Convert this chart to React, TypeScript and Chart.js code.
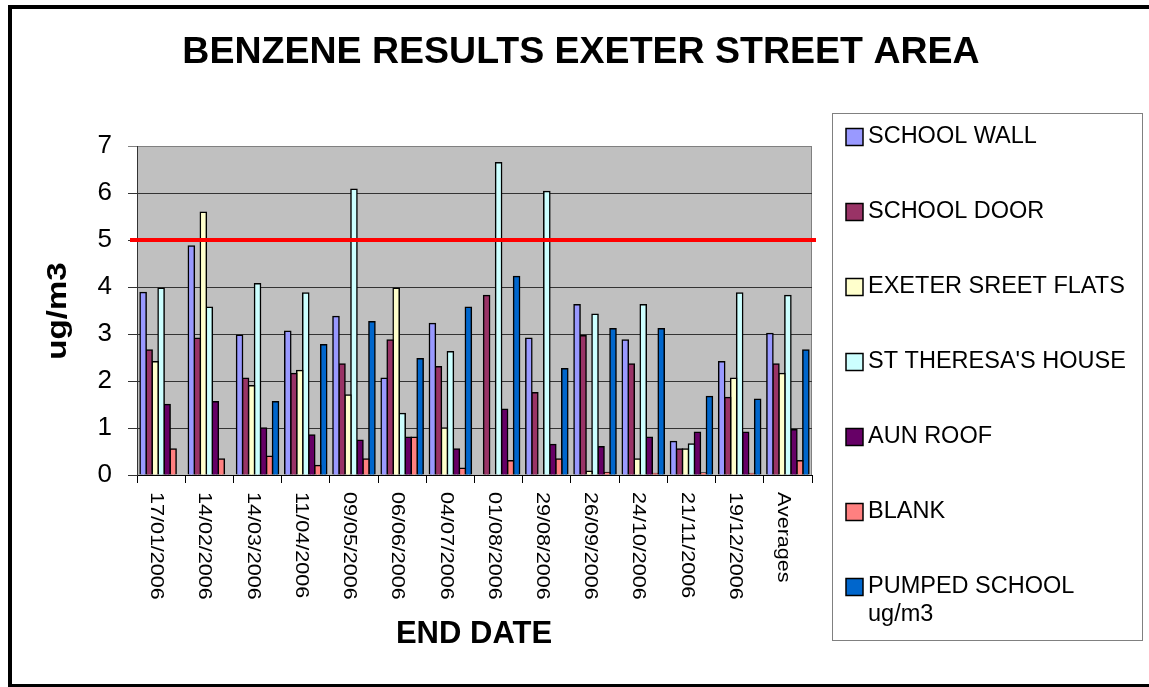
import React, { useEffect, useRef } from 'react';
import { Chart, registerables } from 'chart.js';

Chart.register(...registerables);

// ---------- data ----------
const categories = [
  '17/01/2006', '14/02/2006', '14/03/2006', '11/04/2006', '09/05/2006', '06/06/2006', '04/07/2006',
  '01/08/2006', '29/08/2006', '26/09/2006', '24/10/2006', '21/11/2006', '19/12/2006', 'Averages',
];
const schoolWall = [3.88, 4.87, 2.97, 3.06, 3.37, 2.06, 3.22, null, 2.91, 3.62, 2.87, 0.71, 2.41, 3.01];
const schoolDoor = [2.66, 2.91, 2.06, 2.16, 2.36, 2.87, 2.30, 3.82, 1.75, 2.96, 2.36, 0.55, 1.65, 2.36];
const exeterFlats = [2.41, 5.59, 1.90, 2.22, 1.70, 3.97, 1.00, null, null, 0.08, 0.34, 0.55, 2.06, 2.16];
const stTheresa = [3.97, 3.57, 4.07, 3.87, 6.08, 1.31, 2.62, 6.64, 6.03, 3.42, 3.62, 0.66, 3.87, 3.82];
const aunRoof = [1.50, 1.56, 1.00, 0.85, 0.74, 0.80, 0.55, 1.40, 0.65, 0.60, 0.80, 0.91, 0.91, 0.96];
const blank = [0.55, 0.34, 0.40, 0.20, 0.34, 0.80, 0.14, 0.30, 0.34, 0.05, 0.03, 0.04, 0.03, 0.30];
const pumpedSchool = [null, null, 1.56, 2.77, 3.26, 2.47, 3.57, 4.22, 2.26, 3.11, 3.11, 1.67, 1.61, 2.66];

const seriesLabels = [
  'SCHOOL WALL', 'SCHOOL DOOR', 'EXETER SREET FLATS', "ST THERESA'S HOUSE", 'AUN ROOF', 'BLANK', 'PUMPED SCHOOL ug/m3',
];
const seriesValues = [schoolWall, schoolDoor, exeterFlats, stTheresa, aunRoof, blank, pumpedSchool];

const yMin = 0;
const yMax = 7;
const yStep = 1;
const limitValue = 5;

const chartTitle = 'BENZENE RESULTS EXETER STREET AREA';
const xAxisTitle = 'END DATE';
const yAxisTitle = 'ug/m3';

// ---------- styles ----------
const FONT = '"Liberation Sans", Arial, Helvetica, sans-serif';
const seriesColors = ['#9999FF', '#993366', '#FFFFCC', '#CCFFFF', '#660066', '#FF8080', '#0066CC'];

const decorPlugin = {
  id: 'decor',
  beforeDraw(chart: any) {
    const { ctx, chartArea: a } = chart;
    ctx.save();
    ctx.fillStyle = '#ffffff';
    ctx.fillRect(0, 0, chart.width, chart.height);
    ctx.fillStyle = '#C0C0C0';
    ctx.fillRect(a.left, a.top, a.right - a.left, a.bottom - a.top);
    ctx.strokeStyle = '#808080';
    ctx.lineWidth = 1;
    ctx.beginPath();
    ctx.moveTo(a.left, a.top + 0.5);
    ctx.lineTo(a.right - 0.5, a.top + 0.5);
    ctx.lineTo(a.right - 0.5, a.bottom);
    ctx.stroke();
    ctx.restore();
  },
  afterDatasetsDraw(chart: any) {
    const { ctx, chartArea: a } = chart;
    const y = chart.scales.y.getPixelForValue(limitValue);
    ctx.save();
    ctx.strokeStyle = '#FF0000';
    ctx.lineWidth = 4;
    ctx.beginPath();
    ctx.moveTo(a.left - 7, y);
    ctx.lineTo(a.right + 4, y);
    ctx.stroke();
    ctx.restore();
  },
  afterDraw(chart: any) {
    const { ctx, chartArea: a } = chart;
    const xs = chart.scales.x;
    ctx.save();
    ctx.fillStyle = '#000';

    // title
    ctx.font = `bold 37.5px ${FONT}`;
    ctx.textAlign = 'center';
    ctx.textBaseline = 'alphabetic';
    ctx.fillText(chartTitle, 581, 63);

    // x axis title
    ctx.font = `bold 31px ${FONT}`;
    ctx.fillText(xAxisTitle, 474, 643);

    // y axis title (rotated, reading bottom to top)
    ctx.save();
    ctx.translate(66, 311);
    ctx.rotate(-Math.PI / 2);
    ctx.scale(1.18, 1);
    ctx.font = `bold 28px ${FONT}`;
    ctx.textAlign = 'center';
    ctx.fillText(yAxisTitle, 0, 0);
    ctx.restore();

    // x tick labels (rotated clockwise, reading top to bottom)
    ctx.font = `17.5px ${FONT}`;
    categories.forEach((lab, i) => {
      const x = xs.getPixelForTick(i) - 5;
      ctx.save();
      ctx.translate(x, a.bottom + 17);
      ctx.rotate(Math.PI / 2);
      ctx.scale(1.23, 1);
      ctx.textAlign = 'left';
      ctx.textBaseline = 'middle';
      ctx.fillText(lab, 0, 0);
      ctx.restore();
    });

    // legend
    const lx = 832.5, ly = 113.5, lw = 310, lh = 527;
    ctx.fillStyle = '#fff';
    ctx.fillRect(lx, ly, lw, lh);
    ctx.strokeStyle = '#808080';
    ctx.lineWidth = 1;
    ctx.strokeRect(lx, ly, lw, lh);
    ctx.font = `23.5px ${FONT}`;
    ctx.textAlign = 'left';
    ctx.textBaseline = 'middle';
    const maxW = 272;
    chart.data.datasets.forEach((ds: any, i: number) => {
      const cy = 137 + i * 75;
      ctx.fillStyle = ds.backgroundColor;
      ctx.fillRect(846, cy - 8.5, 17, 17);
      ctx.strokeStyle = '#000';
      ctx.lineWidth = 1.5;
      ctx.strokeRect(846, cy - 8.5, 17, 17);
      ctx.fillStyle = '#000';
      const words = String(ds.label).split(' ');
      const lines: string[] = [];
      let cur = '';
      words.forEach((w) => {
        const t = cur ? cur + ' ' + w : w;
        if (ctx.measureText(t).width > maxW && cur) {
          lines.push(cur);
          cur = w;
        } else cur = t;
      });
      if (cur) lines.push(cur);
      lines.forEach((ln, k) => ctx.fillText(ln, 868, cy + k * 28));
    });

    // outer frame (left, top, bottom; right side lies outside the picture)
    ctx.strokeStyle = '#000';
    ctx.lineWidth = 4;
    ctx.beginPath();
    ctx.moveTo(chart.width + 10, 7);
    ctx.lineTo(10, 7);
    ctx.lineTo(10, 686);
    ctx.lineTo(chart.width + 10, 686);
    ctx.stroke();
    ctx.restore();
  },
};

export default function App() {
  const ref = useRef<HTMLCanvasElement | null>(null);

  useEffect(() => {
    if (!ref.current) return;
    const chart = new Chart(ref.current, {
      type: 'bar',
      data: {
        labels: categories,
        datasets: seriesValues.map((vals, i) => ({
          label: seriesLabels[i],
          data: vals,
          backgroundColor: seriesColors[i],
          borderColor: '#000000',
          borderWidth: 1.5,
          inflateAmount: 0.8,
          barPercentage: 1,
          categoryPercentage: 0.87,
        })),
      },
      options: {
        animation: false,
        responsive: false,
        devicePixelRatio: 1,
        layout: { padding: { top: 146, right: 337, left: 0, bottom: 0 } },
        plugins: {
          legend: { display: false },
          title: { display: false },
          tooltip: { enabled: false },
        },
        scales: {
          x: {
            type: 'category',
            offset: true,
            grid: {
              offset: true,
              drawOnChartArea: false,
              drawTicks: true,
              tickLength: 8,
              color: '#000',
            },
            border: { display: true, color: '#000', width: 1 },
            ticks: { display: false },
            afterFit: (scale: any) => {
              scale.height = 212;
            },
          },
          y: {
            min: yMin,
            max: yMax,
            ticks: {
              stepSize: yStep,
              color: '#000',
              padding: 16,
              font: { family: FONT, size: 26 },
            },
            grid: {
              color: (c: any) => (c.tick && c.tick.value === yMax ? '#808080' : '#333333'),
              tickLength: 9,
              lineWidth: 1,
            },
            border: { display: true, color: '#333', width: 1 },
            afterFit: (scale: any) => {
              scale.width = 137;
            },
          },
        },
      },
      plugins: [decorPlugin],
    } as any);
    return () => chart.destroy();
  }, []);

  return (
    <div style={{ position: 'absolute', left: 0, top: 0, width: 1149, height: 687, background: '#fff' }}>
      <canvas ref={ref} width={1149} height={687} style={{ display: 'block' }} />
    </div>
  );
}
